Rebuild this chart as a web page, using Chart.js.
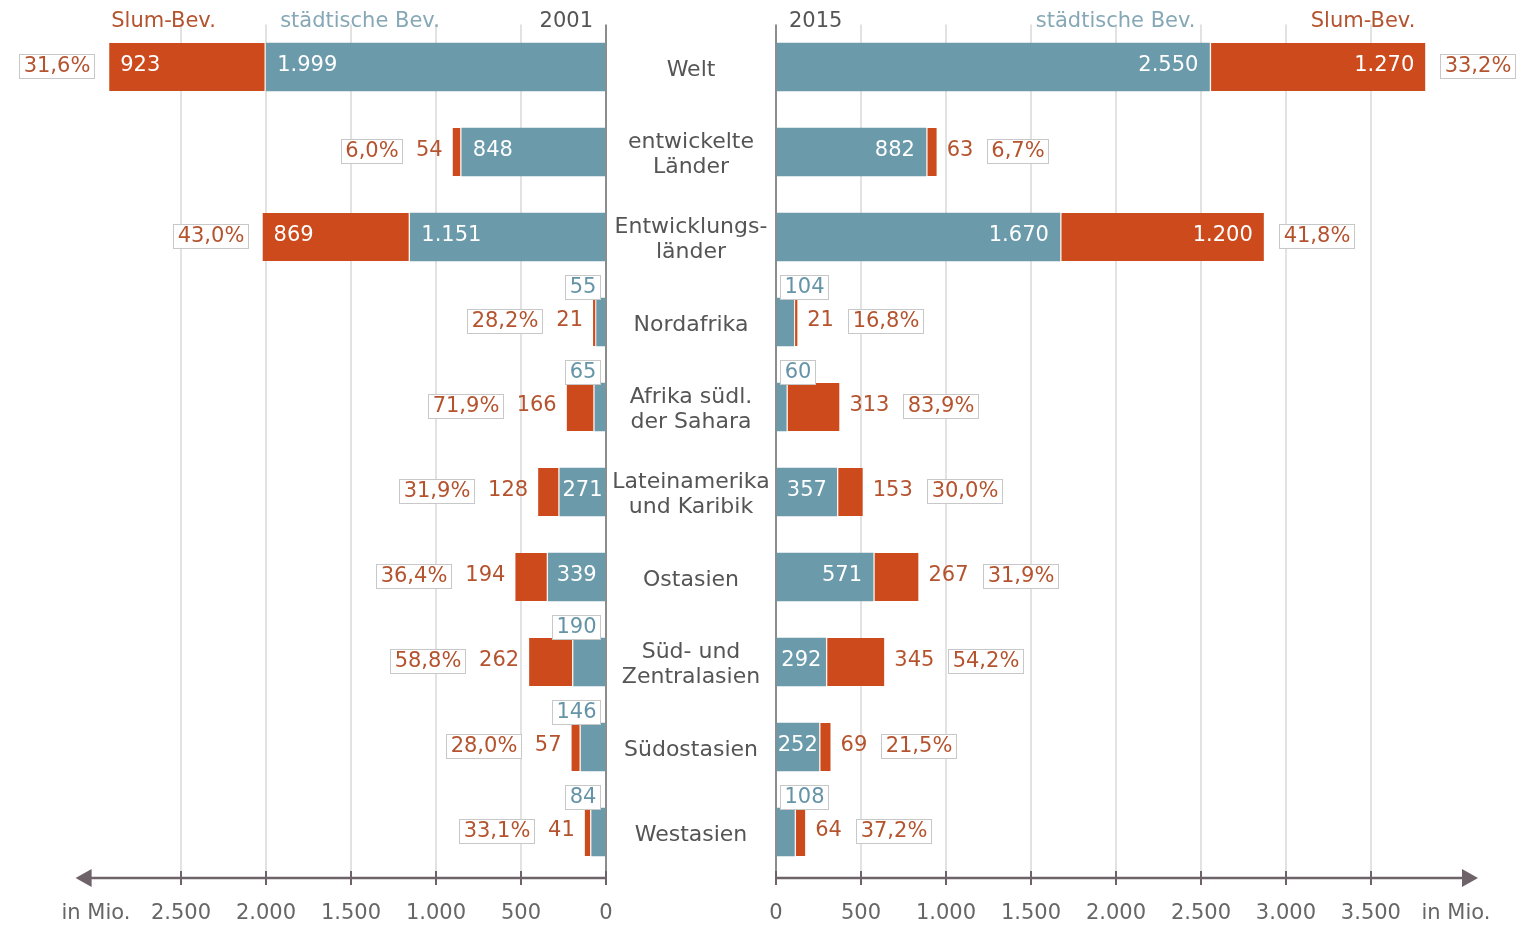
<!DOCTYPE html>
<html lang="de">
<head>
<meta charset="utf-8">
<title>Städtische Bevölkerung und Slum-Bevölkerung 2001 und 2015</title>
<script src="https://cdn.jsdelivr.net/npm/chart.js@4.4.1/dist/chart.umd.min.js"></script>
<style>
  html, body { margin: 0; padding: 0; background: #fff; }
  #wrap { position: relative; width: 1521px; height: 926px; }
  #wrap canvas { position: absolute; left: 0; top: 0; }
</style>
</head>
<body>
<div id="wrap">
  <canvas id="chart2001" width="1521" height="926"></canvas>
  <canvas id="chart2015" width="1521" height="926"></canvas>
</div>
<script>
// Regionen (mittlere Spalte)
const regionen = [
  'Welt',
  ['entwickelte', 'Länder'],
  ['Entwicklungs-', 'länder'],
  'Nordafrika',
  ['Afrika südl.', 'der Sahara'],
  ['Lateinamerika', 'und Karibik'],
  'Ostasien',
  ['Süd- und', 'Zentralasien'],
  'Südostasien',
  'Westasien'
];

// 2001, in Mio.
const stadt2001 = [1999, 848, 1151, 55, 65, 271, 339, 190, 146, 84];
const slum2001 = [923, 54, 869, 21, 166, 128, 194, 262, 57, 41];
const anteil2001 = [31.6, 6.0, 43.0, 28.2, 71.9, 31.9, 36.4, 58.8, 28.0, 33.1];

// 2015, in Mio.
const stadt2015 = [2550, 882, 1670, 104, 60, 357, 571, 292, 252, 108];
const slum2015 = [1270, 63, 1200, 21, 313, 153, 267, 345, 69, 64];
const anteil2015 = [33.2, 6.7, 41.8, 16.8, 83.9, 30.0, 31.9, 54.2, 21.5, 37.2];

// Achsenbeschriftung (letzter Wert = Einheit)
const ticks2001 = [0, 500, 1000, 1500, 2000, 2500, 3000];
const ticks2015 = [0, 500, 1000, 1500, 2000, 2500, 3000, 3500, 4000];
const einheit = 'in Mio.';

const BLAU = '#6b9aab';
const ORANGE = '#cc4a1c';
const BLAU_TEXT = '#6594a7';
const ORANGE_TEXT = '#b4532e';
const FONT = '"DejaVu Sans", Verdana, sans-serif';

Chart.defaults.font.family = FONT;

function fmt(n) {
    return String(n).replace(/\B(?=(\d{3})+(?!\d))/g, '.');
}

function fmtPct(p) {
    return p.toFixed(1).replace('.', ',') + '%';
}

// Text in einem Rahmen, x = Kante an der der Rahmen anliegt
function boxText(ctx, text, x, y, align, color) {
    const w = Math.round(ctx.measureText(text).width + 8);
    const h = 24;
    const bx = Math.round(align === 'left' ? x : x - w);
    const by = Math.round(y - h / 2);
    ctx.fillStyle = '#fff';
    ctx.fillRect(bx, by, w, h);
    ctx.strokeStyle = '#c8c8c8';
    ctx.lineWidth = 1;
    ctx.strokeRect(bx + 0.5, by + 0.5, w, h);
    ctx.fillStyle = color;
    ctx.textAlign = 'center';
    ctx.fillText(text, bx + w / 2 + 0.5, y + 1);
    return w;
}

// Werte, Anteile und Kopfzeile
const wertePlugin = {
    id: 'werte',
    afterDatasetsDraw(chart, args, opts) {
        const ctx = chart.ctx;
        const dir = opts.dir;
        const mStadt = chart.getDatasetMeta(0);
        const mSlum = chart.getDatasetMeta(1);
        const zero = chart.scales.x.getPixelForValue(0);
        ctx.save();
        ctx.font = '21px ' + FONT;
        ctx.textBaseline = 'middle';

        opts.stadt.forEach((s, i) => {
            const bS = mStadt.data[i];
            const bL = mSlum.data[i];
            const y = bS.y - 1;

            // städtische Bev.
            const tS = fmt(s);
            const wS = ctx.measureText(tS).width;
            if (s >= 250) {
                const seg = Math.abs(bS.x - bS.base);
                const pad = Math.max(1, Math.min(11, (seg - wS) / 2));
                ctx.fillStyle = '#fff';
                ctx.textAlign = dir < 0 ? 'left' : 'right';
                ctx.fillText(tS, bS.x - dir * pad, y);
            } else {
                const top = bS.y - bS.height / 2;
                boxText(ctx, tS, dir < 0 ? zero - 6 : zero + 4, top - 11, dir < 0 ? 'right' : 'left', BLAU_TEXT);
            }

            // Slum-Bev.
            const v = opts.slum[i];
            const tL = fmt(v);
            let x;
            ctx.textBaseline = 'middle';
            if (v >= 500) {
                ctx.fillStyle = '#fff';
                ctx.textAlign = dir < 0 ? 'left' : 'right';
                ctx.fillText(tL, bL.x - dir * 11, y);
                x = bL.x + dir * 15;
            } else {
                ctx.fillStyle = ORANGE_TEXT;
                ctx.textAlign = dir < 0 ? 'right' : 'left';
                ctx.fillText(tL, bL.x + dir * 10, y);
                x = bL.x + dir * (10 + ctx.measureText(tL).width + 14);
            }
            boxText(ctx, fmtPct(opts.anteil[i]), x, y, dir < 0 ? 'right' : 'left', ORANGE_TEXT);
        });

        // Kopfzeile, an den Welt-Balken ausgerichtet
        const hy = 22;
        const w0 = mStadt.data[0];
        const w1 = mSlum.data[0];
        ctx.fillStyle = ORANGE_TEXT;
        ctx.textAlign = dir < 0 ? 'left' : 'right';
        ctx.fillText('Slum-Bev.', w1.x - dir * (dir < 0 ? 2 : 10), hy);
        ctx.fillStyle = '#86a8b6';
        ctx.fillText('städtische Bev.', w0.x - dir * 14, hy);
        ctx.fillStyle = '#555';
        ctx.textAlign = dir < 0 ? 'right' : 'left';
        ctx.fillText(opts.jahr, zero + dir * 13, hy);
        ctx.restore();
    }
};

// Achse mit Pfeil und Teilstrichen
const achsePlugin = {
    id: 'achse',
    afterDraw(chart, args, opts) {
        const ctx = chart.ctx;
        const sx = chart.scales.x;
        const a = chart.chartArea;
        const dir = opts.dir;
        const y = a.bottom + 3.5;
        const zero = sx.getPixelForValue(0);
        const tip = dir < 0 ? a.left : a.right;
        ctx.save();
        ctx.strokeStyle = '#6e6368';
        ctx.fillStyle = '#6e6368';
        ctx.lineWidth = 2.5;
        ctx.beginPath();
        ctx.moveTo(zero, y);
        ctx.lineTo(tip - dir * 8, y);
        ctx.stroke();
        ctx.beginPath();
        ctx.moveTo(tip, y);
        ctx.lineTo(tip - dir * 16, y - 9);
        ctx.lineTo(tip - dir * 16, y + 9);
        ctx.closePath();
        ctx.fill();
        ctx.lineWidth = 2;
        opts.ticks.slice(0, -1).forEach(v => {
            const px = Math.round(sx.getPixelForValue(v));
            ctx.beginPath();
            ctx.moveTo(px, y - 7);
            ctx.lineTo(px, y + 7);
            ctx.stroke();
        });

        // Regionen in der Mitte (nur einmal)
        if (opts.regionen) {
            const sy = chart.scales.y;
            ctx.font = '22px ' + FONT;
            ctx.fillStyle = '#555';
            ctx.textAlign = 'center';
            ctx.textBaseline = 'middle';
            regionen.forEach((r, i) => {
                const lines = Array.isArray(r) ? r : [r];
                const cy = sy.getPixelForValue(i) + 3;
                lines.forEach((t, k) => {
                    ctx.fillText(t, 691, cy + (k - (lines.length - 1) / 2) * 25);
                });
            });
        }
        ctx.restore();
    }
};

function baueChart(id, jahr, stadt, slum, anteil, ticks, dir) {
    const links = dir < 0;
    const letzter = ticks[ticks.length - 1];
    new Chart(document.getElementById(id), {
        type: 'bar',
        data: {
            labels: regionen,
            datasets: [{
                label: 'städtische Bev.',
                data: stadt,
                backgroundColor: BLAU,
                barThickness: 48
            }, {
                label: 'Slum-Bev.',
                data: slum,
                backgroundColor: ORANGE,
                borderColor: 'rgba(255, 240, 230, 0.8)',
                borderWidth: links ? { right: 2 } : { left: 2 },
                borderSkipped: false,
                barThickness: 48
            }]
        },
        options: {
            indexAxis: 'y',
            responsive: false,
            animation: false,
            layout: {
                padding: {
                    left: links ? 75.6 : 776,
                    right: links ? 915 : 43,
                    top: 24.5,
                    bottom: 0
                }
            },
            plugins: {
                legend: { display: false },
                tooltip: { enabled: false },
                werte: { dir: dir, jahr: jahr, stadt: stadt, slum: slum, anteil: anteil },
                achse: { dir: dir, ticks: ticks, regionen: links }
            },
            scales: {
                x: {
                    type: 'linear',
                    min: 0,
                    max: links ? 3120 : 4130,
                    reverse: links,
                    stacked: true,
                    afterBuildTicks: function(scale) {
                        scale.ticks = ticks.map(v => ({ value: v }));
                    },
                    afterFit: function(scale) {
                        scale.height = 51.5;
                    },
                    border: { display: false },
                    grid: {
                        drawTicks: false,
                        lineWidth: 2,
                        color: function(c) {
                            if (c.tick && c.tick.value === 0) return '#8c8c8c';
                            if (c.tick && c.tick.value === letzter) return 'rgba(0,0,0,0)';
                            return '#e2e2e2';
                        }
                    },
                    ticks: {
                        padding: 26,
                        autoSkip: false,
                        maxRotation: 0,
                        color: '#666',
                        font: { size: 21 },
                        callback: function(value) {
                            return value === letzter ? einheit : fmt(value);
                        }
                    }
                },
                y: {
                    type: 'category',
                    display: false,
                    stacked: true,
                    offset: true
                }
            }
        },
        plugins: [wertePlugin, achsePlugin]
    });
}

baueChart('chart2001', '2001', stadt2001, slum2001, anteil2001, ticks2001, -1);
baueChart('chart2015', '2015', stadt2015, slum2015, anteil2015, ticks2015, 1);
</script>
</body>
</html>
